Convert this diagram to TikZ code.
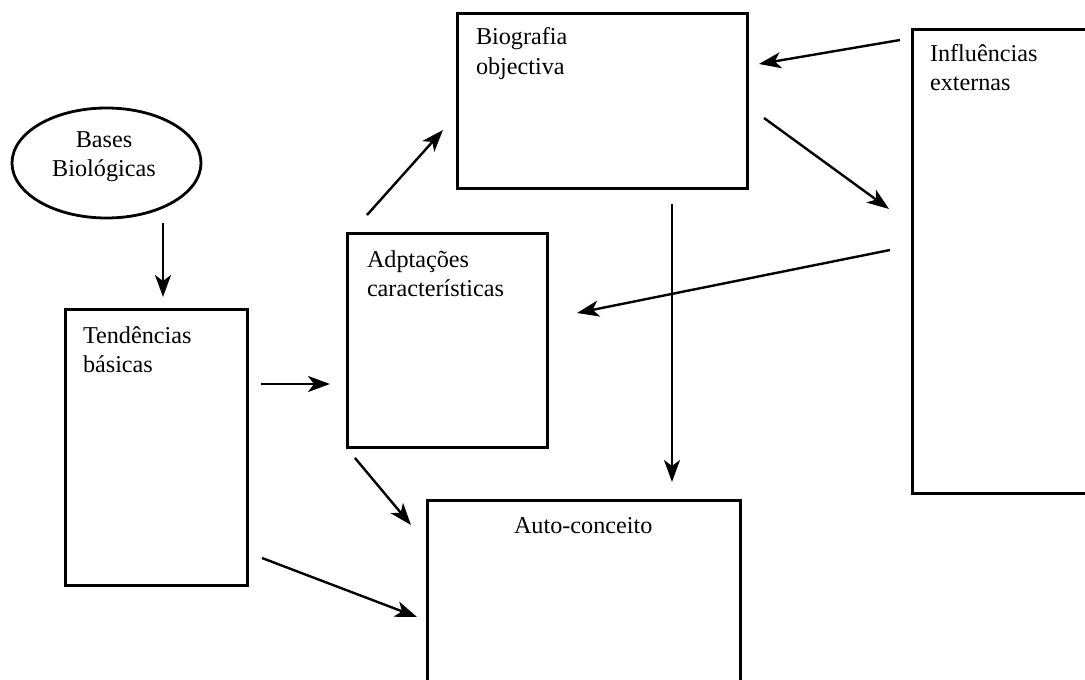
\documentclass[tikz,border=0pt]{standalone}
\usepackage{fontspec}
\setmainfont{Liberation Serif}
\usetikzlibrary{arrows.meta,shapes.geometric}
\begin{document}
\begin{tikzpicture}[x=1pt,y=-1pt,
  box/.style={draw=black,line width=3pt,rectangle,inner sep=0pt,outer sep=0pt,anchor=north west},
  oval/.style={draw=black,line width=2.8pt,ellipse,inner sep=0pt,outer sep=0pt},
  lbl/.style={inner sep=0pt,outer sep=0pt,font=\fontsize{24.2}{29}\selectfont},
  conn/.style={line width=2.4pt,-{Stealth[length=22pt,width=16pt,inset=6pt]}}]
\useasboundingbox (0,0) rectangle (1085,680);
\clip (0,0) rectangle (1085,680);
\fill[white] (0,0) rectangle (1085,680);
% shapes
\node[oval,minimum width=189pt,minimum height=110pt] (bases) at (106.5,163) {};
\node[box,minimum width=290pt,minimum height=175pt] (bio) at (457,13) {};
\node[box,minimum width=200pt,minimum height=464pt] (inf) at (912,29) {};
\node[box,minimum width=200pt,minimum height=214pt] (adp) at (347,233) {};
\node[box,minimum width=182pt,minimum height=276pt] (tend) at (65,309) {};
\node[box,minimum width=313pt,minimum height=220pt] (auto) at (427,500) {};
% texts (base anchor = baseline of last line)
\node[lbl,align=center,anchor=base] (basest) at (104,176) {Bases\\Biológicas};
\node[lbl,align=left,anchor=base west] (biot) at (476,74) {Biografia\\objectiva};
\node[lbl,align=left,anchor=base west] (inft) at (930,90) {Influências\\externas};
\node[lbl,align=left,anchor=base west] (adpt) at (367,296) {Adptações\\características};
\node[lbl,align=left,anchor=base west] (tendt) at (83,372) {Tendências\\básicas};
\node[lbl,anchor=base west] (autot) at (514,533) {Auto-conceito};
% connector ends
\coordinate (c1s) at (163,223); \coordinate (c1e) at (163,297);
\coordinate (c2s) at (261,384); \coordinate (c2e) at (330,384);
\coordinate (c3s) at (367,215); \coordinate (c3e) at (443,130);
\coordinate (c4s) at (764,118); \coordinate (c4e) at (889,209);
\coordinate (c5s) at (900,40);  \coordinate (c5e) at (759,64);
\coordinate (c6s) at (890,250); \coordinate (c6e) at (577,313);
\coordinate (c7s) at (672,204); \coordinate (c7e) at (672,482);
\coordinate (c8s) at (355,458); \coordinate (c8e) at (411,525);
\coordinate (c9s) at (262,558); \coordinate (c9e) at (417,617);
% connectors
\draw[conn] (c1s) -- (c1e);
\draw[conn] (c2s) -- (c2e);
\draw[conn] (c3s) -- (c3e);
\draw[conn] (c4s) -- (c4e);
\draw[conn] (c5s) -- (c5e);
\draw[conn] (c6s) -- (c6e);
\draw[conn] (c7s) -- (c7e);
\draw[conn] (c8s) -- (c8e);
\draw[conn] (c9s) -- (c9e);
\end{tikzpicture}
\end{document}
